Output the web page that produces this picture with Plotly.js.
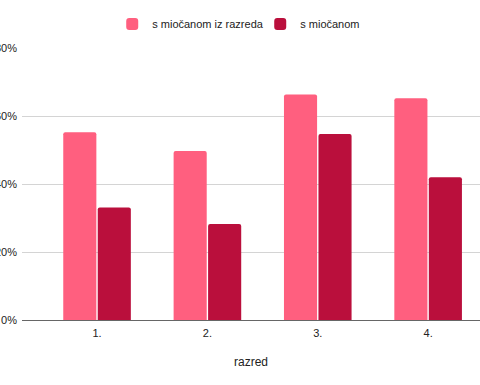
<!DOCTYPE html>
<html>
<head>
<meta charset="utf-8">
<script src="https://cdn.plot.ly/plotly-3.0.1.min.js"></script>
<style>html,body{margin:0;padding:0;background:#fff;}#chart{width:480px;height:385px;}</style>
</head>
<body>
<div id="chart"></div>
<script>
const categories = ["1.", "2.", "3.", "4."];
const seriesNames = ["s miočanom iz razreda", "s miočanom"];
const sMiocanomIzRazreda = [0.552, 0.497, 0.663, 0.652];
const sMiocanom = [0.331, 0.282, 0.547, 0.420];
const yTickValues = [0, 0.2, 0.4, 0.6, 0.8];
const yTickLabels = ["0%", "20%", "40%", "60%", "80%"];

const fam = "Liberation Sans, Arial, sans-serif";
const font = {family: fam, size: 11, color: "#222"};

const traces = [
  {type: "bar", name: seriesNames[0], x: categories, y: sMiocanomIzRazreda,
   marker: {color: "#ff5f7f", cornerradius: 2}, hoverinfo: "none"},
  {type: "bar", name: seriesNames[1], x: categories, y: sMiocanom,
   marker: {color: "#ba0f3c", cornerradius: 2}, hoverinfo: "none"}
];

const layout = {
  width: 480, height: 385,
  margin: {l: 22, r: 0, t: 48, b: 65, pad: 0},
  paper_bgcolor: "#fff", plot_bgcolor: "#fff",
  font: font,
  barmode: "group", bargap: 0.375, bargroupgap: 0.04,
  showlegend: true,
  legend: {orientation: "h", x: 0.197, xanchor: "left", y: 1.088, yanchor: "middle",
           font: {family: fam, size: 11, color: "#222"}, itemwidth: 30,
           entrywidth: 103, entrywidthmode: "pixels"},
  xaxis: {
    type: "category", range: [-0.68, 3.47], automargin: false,
    showgrid: false, showline: false, zeroline: false, ticks: "",
    ticklabelstandoff: 5,
    tickfont: {family: fam, size: 11, color: "#222"},
    title: {text: "razred", font: {family: fam, size: 12, color: "#222"}, standoff: 19}
  },
  yaxis: {
    range: [0, 0.8], automargin: false,
    tickvals: yTickValues, ticktext: yTickLabels,
    showgrid: true, gridcolor: "#d4d4d4", gridwidth: 1,
    zeroline: true, zerolinecolor: "#666", zerolinewidth: 1,
    showline: false, ticks: "", ticklabelstandoff: 4,
    tickfont: {family: fam, size: 11, color: "#222"}
  }
};

Plotly.newPlot("chart", traces, layout, {staticPlot: true, displayModeBar: false});
</script>
</body>
</html>
